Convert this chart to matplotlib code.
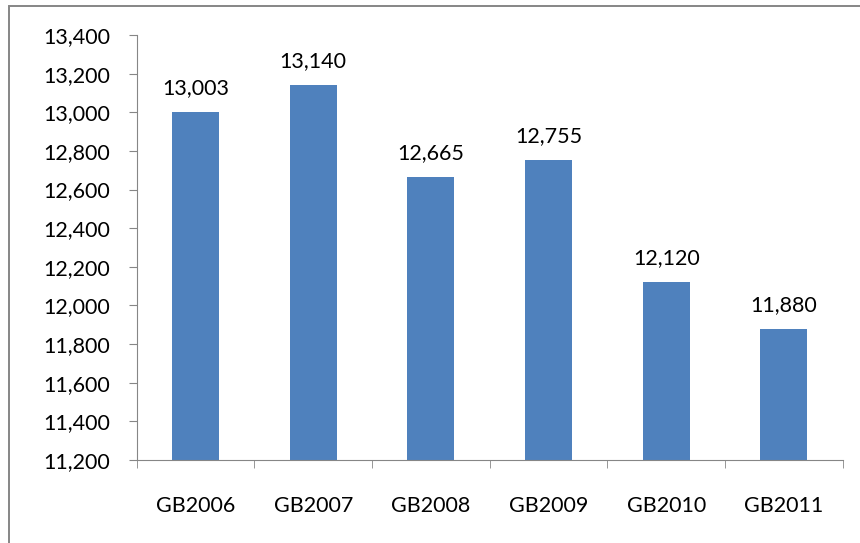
import matplotlib

matplotlib.use("Agg")
import matplotlib.pyplot as plt
from matplotlib.patches import Rectangle
from matplotlib.ticker import FuncFormatter, FixedLocator
import numpy as np

categories = ["GB2006", "GB2007", "GB2008", "GB2009", "GB2010", "GB2011"]
values = [13003, 13140, 12665, 12755, 12120, 11880]
y_ticks = [11200, 11400, 11600, 11800, 12000, 12200, 12400, 12600, 12800, 13000, 13200, 13400]

plt.rcParams["font.family"] = ["Lato", "DejaVu Sans"]
GRAY = "#868686"
FS = 15.5

fig = plt.figure(figsize=(8.6, 5.43), dpi=100)
ax = fig.add_axes([0.159, 0.153, 0.821, 0.7825])

x = np.arange(len(categories))
ax.bar(x, values, width=0.4, color="#4F81BD", zorder=2)
for xi, v in zip(x, values):
    ax.annotate(f"{v:,}", (xi, v), textcoords="offset points", xytext=(0, 10),
                ha="center", va="bottom", fontsize=FS)

ax.set_xlim(-0.5, len(categories) - 0.5)
ax.set_ylim(y_ticks[0], y_ticks[-1])
ax.set_yticks(y_ticks)
ax.yaxis.set_major_formatter(FuncFormatter(lambda v, p: f"{v:,.0f}"))
ax.tick_params(axis="y", labelsize=FS, length=6, color=GRAY, pad=13)

# category labels centred, ticks at category boundaries
ax.set_xticks(x)
ax.set_xticklabels(categories, fontsize=FS)
ax.tick_params(axis="x", which="major", length=0, pad=26)
ax.xaxis.set_minor_locator(FixedLocator(np.arange(-0.5, len(categories), 1.0)))
ax.tick_params(axis="x", which="minor", length=6, color=GRAY)

for s in ["top", "right"]:
    ax.spines[s].set_visible(False)
for s in ["left", "bottom"]:
    ax.spines[s].set_color(GRAY)

# chart-area border, cropped at right and bottom in the original
fig.patches.append(Rectangle((9 / 860, -0.1), 1.0, 1.1 - 6 / 543,
                             transform=fig.transFigure, fill=False,
                             edgecolor=GRAY, lw=1.4))

fig.savefig("out.png", dpi=100)
